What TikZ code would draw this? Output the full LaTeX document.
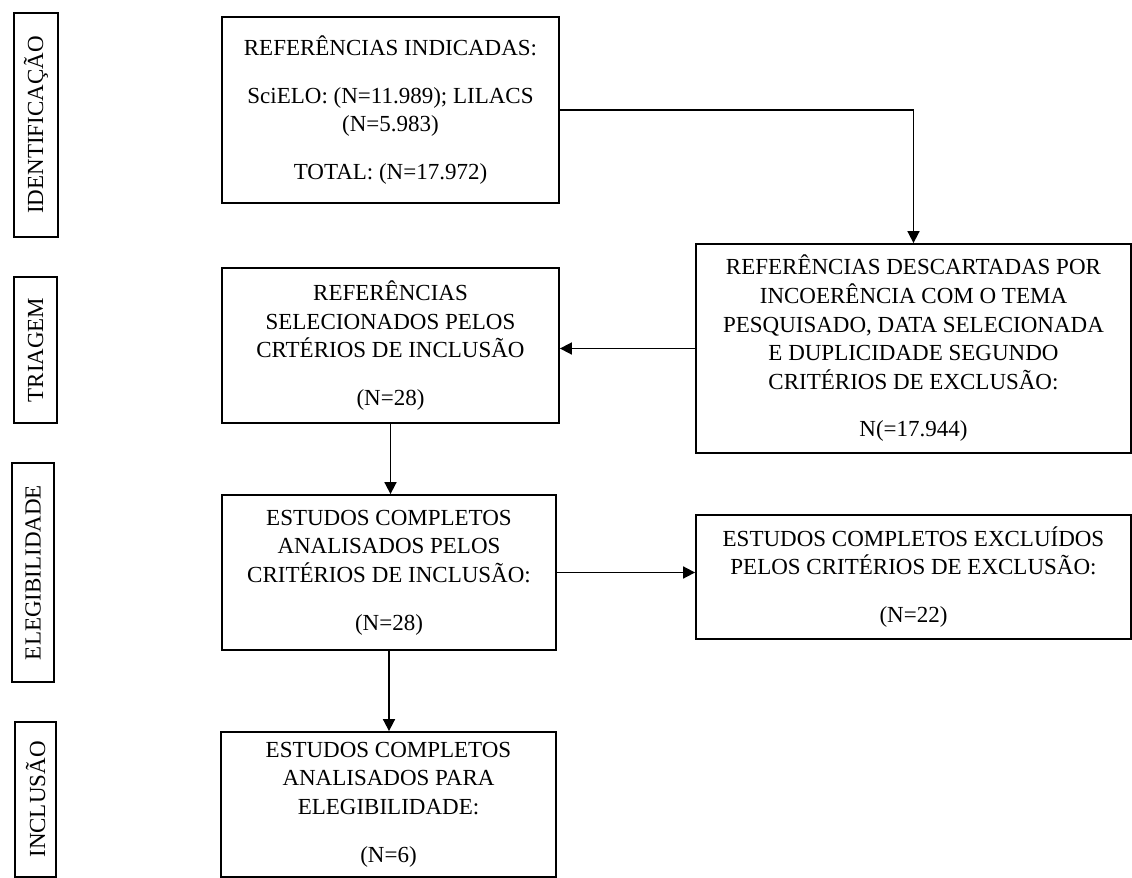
\documentclass[tikz,border=0pt]{standalone}
\usepackage{fontspec}
\setmainfont{Liberation Serif}
\usepackage{tikz}
\usetikzlibrary{arrows.meta,positioning,calc}
\tikzset{
block/.style = {draw, line width=0.9pt, fill=white, rectangle, align=center, inner sep=0pt},
stage/.style = {draw, line width=0.9pt, rectangle, rotate=90, inner sep=0pt},
link/.style  = {line width=0.85pt}
}

\begin{document}
\begin{tikzpicture}[x=0.5pt, y=-0.5pt, >={Triangle[length=6pt,width=6pt]},
                    font=\fontsize{11.5}{14.3}\selectfont]

                \useasboundingbox (0,0) rectangle (1132,878);

                \node [stage, minimum width=112pt, minimum height=22pt] (identificacao) at (36,125) {IDENTIFICAÇÃO};
                \node [stage, minimum width=73pt, minimum height=21.5pt] (triagem) at (35.5,350) {TRIAGEM};
                \node [stage, minimum width=109.5pt, minimum height=21pt] (elegibilidade) at (33,572.5) {ELEGIBILIDADE};
                \node [stage, minimum width=77.5pt, minimum height=20.5pt] (inclusao) at (35.5,799.5) {INCLUSÃO};

                \node [block, minimum width=168.5pt, minimum height=93pt] (indicadas) at (390.5,110)
                      {REFERÊNCIAS INDICADAS:\\[9.5pt] SciELO: (N=11.989); LILACS\\(N=5.983)\\[9.5pt] TOTAL: (N=17.972)};
                \node [block, minimum width=168.5pt, minimum height=77.5pt] (selecionados) at (390.5,345.5)
                      {REFERÊNCIAS\\SELECIONADOS PELOS\\CRTÉRIOS DE INCLUSÃO\\[9.5pt](N=28)};
                \node [block, minimum width=217.5pt, minimum height=104.5pt] (descartadas) at (913.5,348.5)
                      {REFERÊNCIAS DESCARTADAS POR\\INCOERÊNCIA COM O TEMA\\PESQUISADO, DATA SELECIONADA\\E DUPLICIDADE SEGUNDO\\CRITÉRIOS DE EXCLUSÃO:\\[9.5pt]N(=17.944)};
                \node [block, minimum width=167pt, minimum height=77.5pt] (analisados) at (389,572.5)
                      {ESTUDOS COMPLETOS\\ANALISADOS PELOS\\CRITÉRIOS DE INCLUSÃO:\\[9.5pt](N=28)};
                \node [block, minimum width=217.5pt, minimum height=62pt] (excluidos) at (913.5,577)
                      {ESTUDOS COMPLETOS EXCLUÍDOS\\PELOS CRITÉRIOS DE EXCLUSÃO:\\[9.5pt](N=22)};
                \node [block, minimum width=167.5pt, minimum height=72.5pt] (elegiveis) at (388.5,804.5)
                      {ESTUDOS COMPLETOS\\ANALISADOS PARA\\ELEGIBILIDADE:\\[9.5pt](N=6)};

                \draw [link,->] (indicadas) -| (descartadas);
                \draw [link,->] (descartadas) -- (descartadas -| selecionados.east);
                \draw [link,->] (selecionados.south) -- (selecionados.south |- analisados.north);
                \draw [link,->] (analisados) -- (analisados -| excluidos.west);
                \draw [link,->] (analisados.south) -- (analisados.south |- elegiveis.north);
            \end{tikzpicture}
\end{document}
